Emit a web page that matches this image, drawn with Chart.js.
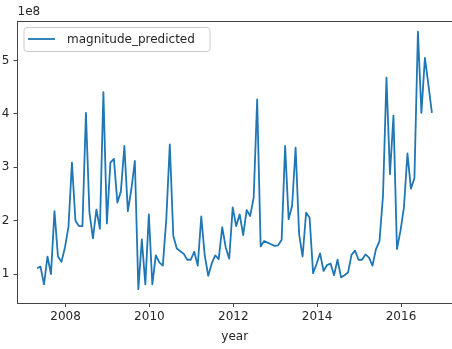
<!DOCTYPE html>
<html>
<head>
<meta charset="utf-8">
<script src="https://cdn.jsdelivr.net/npm/chart.js@4.4.1/dist/chart.umd.min.js"></script>
<style>
	html, body { margin: 0; padding: 0; background: #fff; }
</style>
</head>
<body>
<canvas id="chart" width="452" height="349"></canvas>
<script>
// monthly series, values in units of 1e8
const seriesLabel = 'magnitude_predicted';
const firstMonth = 2007.32; // decimal year of the first point
const magnitudePredicted = [
	1.11, 1.14, 0.81, 1.33, 1.00, 2.18, 1.33, 1.23, 1.50, 1.88,
	3.09, 2.00, 1.90, 1.90, 4.02, 2.16, 1.67, 2.21, 1.85, 4.41,
	1.95, 3.09, 3.16, 2.34, 2.55, 3.40, 2.18, 2.59, 3.12, 0.72,
	1.65, 0.81, 2.12, 0.81, 1.35, 1.22, 1.16, 2.03, 3.43, 1.72,
	1.48, 1.43, 1.38, 1.27, 1.27, 1.42, 1.16, 2.08, 1.35, 0.97,
	1.20, 1.35, 1.28, 1.88, 1.50, 1.29, 2.25, 1.90, 2.12, 1.73,
	2.20, 2.09, 2.43, 4.27, 1.52, 1.62, 1.59, 1.56, 1.53, 1.54,
	1.64, 3.40, 2.03, 2.28, 3.37, 1.75, 1.33, 2.15, 2.06, 1.02,
	1.19, 1.39, 1.06, 1.17, 1.20, 0.98, 1.27, 0.94, 0.98, 1.03,
	1.36, 1.44, 1.27, 1.27, 1.37, 1.31, 1.16, 1.47, 1.62, 2.46,
	4.68, 2.87, 3.97, 1.47, 1.81, 2.25, 3.26, 2.60, 2.80, 5.54,
	4.02, 5.05, 4.55, 4.02
];
const xTicks = [2008, 2010, 2012, 2014, 2016];
const yTicks = [1, 2, 3, 4, 5];
const offsetLabel = '1e8';
const xTitle = 'year';

const points = magnitudePredicted.map((v, i) => ({ x: firstMonth + i / 12, y: v }));

const font = '"DejaVu Sans", sans-serif';
const ink = '#262626';
const spine = '#444';

// top spine, offset text and legend box (matplotlib style)
const extras = {
	id: 'extras',
	afterDraw(chart) {
		const ctx = chart.ctx;
		const a = chart.chartArea;
		ctx.save();
		ctx.strokeStyle = spine;
		ctx.lineWidth = 1;
		ctx.beginPath();
		ctx.moveTo(a.left, a.top + 0.5);
		ctx.lineTo(a.right, a.top + 0.5);
		ctx.stroke();

		ctx.font = '12px ' + font;
		ctx.fillStyle = ink;
		ctx.textBaseline = 'middle';
		ctx.textAlign = 'left';
		ctx.fillText(offsetLabel, a.left, 12);

		// legend
		const bx = a.left + 6.5, by = a.top + 6.5, bw = 186, bh = 24, r = 3;
		ctx.beginPath();
		ctx.moveTo(bx + r, by);
		ctx.arcTo(bx + bw, by, bx + bw, by + bh, r);
		ctx.arcTo(bx + bw, by + bh, bx, by + bh, r);
		ctx.arcTo(bx, by + bh, bx, by, r);
		ctx.arcTo(bx, by, bx + bw, by, r);
		ctx.closePath();
		ctx.fillStyle = 'rgba(255,255,255,0.8)';
		ctx.fill();
		ctx.strokeStyle = '#cccccc';
		ctx.stroke();

		ctx.strokeStyle = '#1f77b4';
		ctx.lineWidth = 1.8;
		ctx.beginPath();
		ctx.moveTo(bx + 4, by + 11.5);
		ctx.lineTo(bx + 31, by + 11.5);
		ctx.stroke();

		ctx.fillStyle = ink;
		ctx.fillText(seriesLabel, bx + 43, by + 12);
		ctx.restore();
	}
};

new Chart(document.getElementById('chart'), {
	type: 'line',
	data: {
		datasets: [{
			label: seriesLabel,
			data: points,
			borderColor: '#1f77b4',
			borderWidth: 1.8,
			pointRadius: 0,
			tension: 0,
			borderJoinStyle: 'round',
			fill: false
		}]
	},
	options: {
		responsive: false,
		animation: false,
		layout: { padding: { top: 21, left: 0, right: 0, bottom: 0 } },
		plugins: {
			legend: { display: false },
			tooltip: { enabled: false }
		},
		scales: {
			x: {
				type: 'linear',
				min: 2006.855,
				max: 2017.216,
				afterBuildTicks: s => { s.ticks = xTicks.map(v => ({ value: v })); },
				afterFit: s => { s.height = 46; },
				grid: { drawOnChartArea: false, drawTicks: true, tickLength: 4, color: spine },
				border: { display: true, color: spine, width: 1 },
				ticks: {
					color: ink,
					font: { family: font, size: 12 },
					padding: 3,
					maxRotation: 0,
					callback: v => String(v)
				},
				title: {
					display: true,
					text: xTitle,
					color: ink,
					font: { family: font, size: 12 },
					padding: { top: 0, bottom: 5 }
				}
			},
			y: {
				type: 'linear',
				min: 0.46,
				max: 5.74,
				afterBuildTicks: s => { s.ticks = yTicks.map(v => ({ value: v })); },
				afterFit: s => { s.width = 17.5; },
				grid: { drawOnChartArea: false, drawTicks: true, tickLength: 4, color: spine },
				border: { display: true, color: spine, width: 1 },
				ticks: {
					color: ink,
					font: { family: font, size: 12 },
					padding: 4,
					callback: v => String(v)
				}
			}
		}
	},
	plugins: [extras]
});
</script>
</body>
</html>
